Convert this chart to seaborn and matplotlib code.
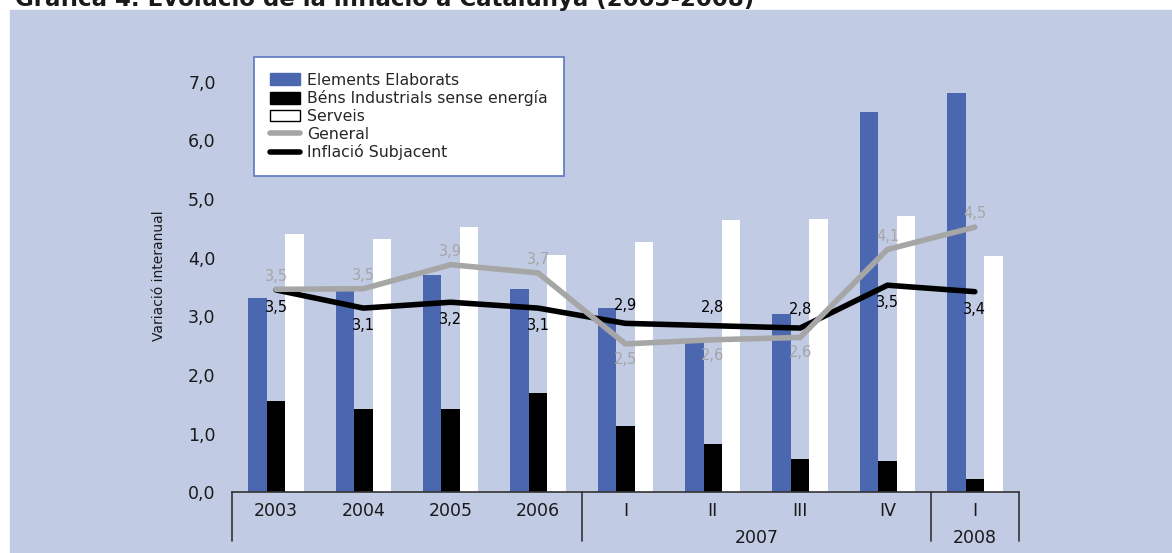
import numpy as np
import pandas as pd
import seaborn as sns
import matplotlib.pyplot as plt
from matplotlib.patches import Patch, Rectangle
from matplotlib.lines import Line2D
from matplotlib.ticker import FuncFormatter
import matplotlib.transforms as mtransforms

# --- data ---
periods = ['2003', '2004', '2005', '2006', 'I 2007', 'II 2007', 'III 2007', 'IV 2007', 'I 2008']
tick_labels = ['2003', '2004', '2005', '2006', 'I', 'II', 'III', 'IV', 'I']
year_groups = ['', '2007', '2008']
group_bounds = [-0.5, 3.5, 7.5, 8.5]

series = ['Elements Elaborats', 'Béns Industrials sense energía', 'Serveis']
elaborats = [3.32, 3.43, 3.70, 3.46, 3.14, 2.55, 3.04, 6.48, 6.80]
industrials = [1.55, 1.42, 1.42, 1.70, 1.13, 0.83, 0.56, 0.54, 0.22]
serveis = [4.40, 4.31, 4.53, 4.04, 4.27, 4.64, 4.66, 4.71, 4.02]
general = [3.46, 3.47, 3.88, 3.74, 2.53, 2.60, 2.64, 4.14, 4.52]
subjacent = [3.45, 3.14, 3.24, 3.14, 2.88, 2.84, 2.80, 3.53, 3.42]

BLUE = '#4A67B0'
GREY = '#A6A6A6'
PANEL = '#C1CBE4'

df = pd.DataFrame({
    'periode': periods * 3,
    'serie': np.repeat(series, len(periods)),
    'valor': elaborats + industrials + serveis,
})

sns.set_style('white')
plt.rcParams['font.family'] = ['DejaVu Sans']

fig = plt.figure(figsize=(11.72, 5.53), dpi=100, facecolor='white')
fig.patches.append(Rectangle((10 / 1172, 0), 1 - 10 / 1172, 1 - 10 / 553,
                             transform=fig.transFigure, color=PANEL, zorder=-5))
ax = fig.add_axes([232.3 / 1172, (553 - 492.3) / 553, 786.2 / 1172, 434.1 / 553])
ax.set_zorder(2)
ax.set_facecolor('none')

palette = {series[0]: BLUE, series[1]: 'black', series[2]: 'white'}
sns.barplot(data=df, x='periode', y='valor', hue='serie', order=periods,
            hue_order=series, palette=palette, width=0.635, saturation=1,
            linewidth=0, legend=False, ax=ax)

x_pos = np.arange(len(periods))
ax.plot(x_pos, subjacent, color='black', lw=4, solid_joinstyle='miter')
ax.plot(x_pos, general, color=GREY, lw=4, solid_joinstyle='miter')

fmt = lambda v: f'{v:.1f}'.replace('.', ',')

# point labels: general above when it sits over the core line
for x, g, s in zip(x_pos, general, subjacent):
    up = g >= s
    ax.annotate(fmt(g), (x, g), xytext=(0, 9.5 if up else -11), textcoords='offset points',
                ha='center', va='center', fontsize=10.5, color=GREY)
    ax.annotate(fmt(s), (x, s), xytext=(0, -12.5 if up else 13), textcoords='offset points',
                ha='center', va='center', fontsize=10.5, color='black')

ax.set_xlim(-0.5, 8.5)
ax.set_ylim(0, 7.4)
ax.set_yticks(np.arange(0, 8, 1))
ax.yaxis.set_major_formatter(FuncFormatter(lambda v, p: fmt(v)))
ax.tick_params(axis='y', length=0, pad=12, labelsize=12.5, labelcolor='#1a1a1a')
ax.set_xticks(x_pos, tick_labels)
ax.tick_params(axis='x', length=0, pad=7, labelsize=12.5, labelcolor='#1a1a1a')
ax.set_xlabel('')
ax.set_ylabel('Variació interanual', fontsize=10, color='#1a1a1a', labelpad=16)

for side in ['top', 'right', 'left']:
    ax.spines[side].set_visible(False)
ax.spines['bottom'].set_color('#333333')
ax.spines['bottom'].set_linewidth(1.2)

# category "table" below the axis
trans = mtransforms.blended_transform_factory(ax.transData, ax.transAxes)
for b in group_bounds:
    ax.plot([b, b], [0, -0.112], transform=trans, color='#333333', lw=1.2, clip_on=False)
for lo, hi, name in zip(group_bounds[:-1], group_bounds[1:], year_groups):
    ax.text((lo + hi) / 2, -0.105, name, transform=trans, ha='center', va='center',
            fontsize=12.5, color='#1a1a1a')

handles = [
    Patch(facecolor=BLUE, edgecolor=BLUE),
    Patch(facecolor='black', edgecolor='black'),
    Patch(facecolor='white', edgecolor='black'),
    Line2D([], [], color=GREY, lw=4),
    Line2D([], [], color='black', lw=4),
]
leg = ax.legend(handles, series + ['General', 'Inflació Subjacent'],
                loc='upper left', bbox_to_anchor=(0.0276, 1.003), borderaxespad=0,
                fancybox=False, framealpha=1, edgecolor='#5B78BE', fontsize=11.3,
                handlelength=1.9, handleheight=0.75, labelspacing=0.17,
                handletextpad=0.5, borderpad=1.0)
leg.get_frame().set_linewidth(1.2)

fig.text(15 / 1172, 1 - 6 / 553, 'Gràfica 4. Evolució de la inflació a Catalunya (2003-2008)',
         ha='left', va='baseline', fontsize=16.5, fontweight='bold', color='#1a1a1a')

fig.savefig('out.png', dpi=100, facecolor=fig.get_facecolor())
